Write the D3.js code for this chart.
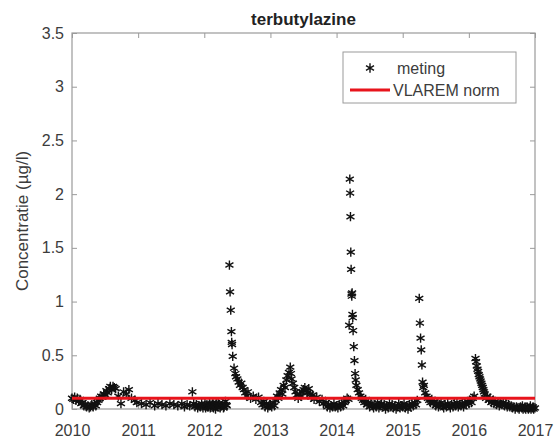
<!DOCTYPE html>
<html>
<head>
<meta charset="utf-8">
<script src="https://cdn.jsdelivr.net/npm/d3@7"></script>
<style>
  body { margin: 0; background: #fff; }
  svg { font-family: "Liberation Sans", Arial, sans-serif; }
</style>
</head>
<body>
<div id="chart"></div>
<script>
// measurements, [decimal year, concentration in µg/l]
const meting2010 = [
  [2010.00, 0.10], [2010.02, 0.09], [2010.04, 0.11], [2010.06, 0.08], [2010.08, 0.10],
  [2010.10, 0.07], [2010.12, 0.09], [2010.14, 0.05], [2010.16, 0.06], [2010.18, 0.03],
  [2010.20, 0.04], [2010.22, 0.02], [2010.24, 0.03], [2010.26, 0.01], [2010.28, 0.02],
  [2010.30, 0.04], [2010.32, 0.02], [2010.34, 0.05], [2010.36, 0.03], [2010.38, 0.06],
  [2010.40, 0.08], [2010.42, 0.10], [2010.44, 0.12], [2010.46, 0.11], [2010.48, 0.14],
  [2010.50, 0.13], [2010.52, 0.17], [2010.54, 0.15], [2010.56, 0.19], [2010.58, 0.21],
  [2010.60, 0.18], [2010.62, 0.21], [2010.64, 0.20], [2010.66, 0.19], [2010.70, 0.12],
  [2010.74, 0.05], [2010.78, 0.16], [2010.82, 0.14], [2010.86, 0.18], [2010.90, 0.10],
  [2010.95, 0.08], [2010.98, 0.06]
];
const meting2011 = [
  [2011.05, 0.05], [2011.12, 0.04], [2011.18, 0.06], [2011.25, 0.03], [2011.30, 0.05],
  [2011.36, 0.04], [2011.42, 0.03], [2011.48, 0.05], [2011.54, 0.04], [2011.60, 0.03],
  [2011.66, 0.05], [2011.70, 0.02], [2011.74, 0.04], [2011.78, 0.03], [2011.82, 0.16],
  [2011.84, 0.05], [2011.86, 0.02], [2011.88, 0.04], [2011.90, 0.01], [2011.92, 0.03],
  [2011.94, 0.02], [2011.96, 0.05], [2011.98, 0.01]
];
const meting2012 = [
  [2012.00, 0.03], [2012.01, 0.05], [2012.02, 0.01], [2012.04, 0.04], [2012.05, 0.02],
  [2012.06, 0.02], [2012.08, 0.05], [2012.09, 0.01], [2012.10, 0.02], [2012.12, 0.04],
  [2012.13, 0.06], [2012.14, 0.01], [2012.16, 0.03], [2012.17, 0.00], [2012.18, 0.06],
  [2012.20, 0.02], [2012.21, 0.05], [2012.22, 0.04], [2012.24, 0.01], [2012.25, 0.03],
  [2012.26, 0.03], [2012.28, 0.05], [2012.29, 0.01], [2012.30, 0.02], [2012.32, 0.07],
  [2012.33, 0.04], [2012.34, 0.03], [2012.38, 1.34], [2012.39, 1.09],
  [2012.40, 0.92], [2012.41, 0.72], [2012.415, 0.62], [2012.42, 0.60], [2012.43, 0.49],
  [2012.45, 0.38], [2012.47, 0.33], [2012.48, 0.30], [2012.50, 0.28], [2012.52, 0.25],
  [2012.54, 0.22], [2012.56, 0.24], [2012.58, 0.20], [2012.60, 0.18], [2012.62, 0.15],
  [2012.64, 0.12], [2012.66, 0.16], [2012.70, 0.10], [2012.74, 0.12], [2012.78, 0.09],
  [2012.82, 0.11], [2012.86, 0.06], [2012.88, 0.04], [2012.90, 0.07], [2012.92, 0.02],
  [2012.94, 0.05], [2012.96, 0.01], [2012.98, 0.03]
];
const meting2013 = [
  [2013.00, 0.04], [2013.02, 0.02], [2013.04, 0.06], [2013.06, 0.03], [2013.08, 0.08],
  [2013.10, 0.12], [2013.12, 0.10], [2013.14, 0.15], [2013.16, 0.18], [2013.18, 0.14],
  [2013.20, 0.22], [2013.22, 0.20], [2013.24, 0.27], [2013.26, 0.31], [2013.28, 0.34],
  [2013.30, 0.39], [2013.31, 0.33], [2013.32, 0.28], [2013.34, 0.24], [2013.36, 0.20],
  [2013.38, 0.16], [2013.40, 0.13], [2013.42, 0.10], [2013.44, 0.14], [2013.46, 0.12],
  [2013.48, 0.16], [2013.50, 0.18], [2013.52, 0.20], [2013.54, 0.17], [2013.56, 0.15],
  [2013.58, 0.19], [2013.60, 0.14], [2013.62, 0.11], [2013.64, 0.13], [2013.66, 0.09],
  [2013.70, 0.11], [2013.74, 0.07], [2013.78, 0.09], [2013.80, 0.05], [2013.84, 0.06],
  [2013.86, 0.02], [2013.88, 0.04], [2013.90, 0.01], [2013.92, 0.03], [2013.94, 0.02],
  [2013.96, 0.05], [2013.98, 0.02]
];
const meting2014 = [
  [2014.00, 0.03], [2014.02, 0.01], [2014.04, 0.04], [2014.06, 0.02], [2014.08, 0.05],
  [2014.10, 0.03], [2014.12, 0.06], [2014.14, 0.08], [2014.16, 0.10], [2014.18, 0.09],
  [2014.19, 0.78], [2014.20, 2.14], [2014.205, 2.01], [2014.21, 1.79], [2014.215, 1.46],
  [2014.22, 1.30], [2014.225, 1.07], [2014.23, 1.05], [2014.235, 1.08], [2014.24, 0.88],
  [2014.245, 0.85], [2014.25, 0.73], [2014.26, 0.58], [2014.27, 0.45], [2014.28, 0.33],
  [2014.29, 0.27], [2014.30, 0.22], [2014.32, 0.18], [2014.34, 0.15], [2014.36, 0.12],
  [2014.38, 0.10], [2014.40, 0.08], [2014.42, 0.06], [2014.44, 0.09], [2014.46, 0.04],
  [2014.48, 0.06], [2014.50, 0.02], [2014.52, 0.05], [2014.54, 0.03], [2014.56, 0.01],
  [2014.58, 0.04], [2014.60, 0.02], [2014.62, 0.06], [2014.64, 0.01], [2014.66, 0.03],
  [2014.68, 0.05], [2014.70, 0.02], [2014.72, 0.04], [2014.74, 0.00], [2014.76, 0.03],
  [2014.78, 0.01], [2014.80, 0.05], [2014.82, 0.02], [2014.84, 0.04], [2014.86, 0.01],
  [2014.88, 0.03], [2014.90, 0.00], [2014.92, 0.02], [2014.94, 0.05], [2014.96, 0.01],
  [2014.98, 0.03]
];
const meting2015 = [
  [2015.00, 0.02], [2015.02, 0.05], [2015.04, 0.01], [2015.06, 0.03], [2015.08, 0.00],
  [2015.10, 0.04], [2015.12, 0.02], [2015.14, 0.05], [2015.16, 0.03], [2015.18, 0.06],
  [2015.20, 0.04], [2015.22, 0.08], [2015.25, 1.03], [2015.26, 0.80], [2015.27, 0.66],
  [2015.28, 0.55], [2015.29, 0.41], [2015.30, 0.25], [2015.31, 0.20], [2015.32, 0.22],
  [2015.34, 0.15], [2015.36, 0.12], [2015.38, 0.10], [2015.40, 0.08], [2015.42, 0.06],
  [2015.44, 0.09], [2015.46, 0.05], [2015.48, 0.07], [2015.50, 0.03], [2015.52, 0.05],
  [2015.54, 0.02], [2015.56, 0.04], [2015.58, 0.06], [2015.60, 0.03], [2015.62, 0.01],
  [2015.64, 0.04], [2015.66, 0.02], [2015.68, 0.05], [2015.70, 0.03], [2015.72, 0.01],
  [2015.74, 0.04], [2015.76, 0.02], [2015.78, 0.05], [2015.80, 0.03], [2015.82, 0.06],
  [2015.84, 0.02], [2015.86, 0.04], [2015.88, 0.03], [2015.90, 0.05], [2015.92, 0.02],
  [2015.94, 0.06], [2015.96, 0.04], [2015.98, 0.07]
];
const meting2016 = [
  [2016.00, 0.05], [2016.02, 0.08], [2016.04, 0.06], [2016.06, 0.10], [2016.08, 0.12],
  [2016.10, 0.47], [2016.11, 0.44], [2016.12, 0.40], [2016.13, 0.37], [2016.14, 0.35],
  [2016.15, 0.32], [2016.16, 0.30], [2016.17, 0.28], [2016.18, 0.26], [2016.19, 0.24],
  [2016.20, 0.22], [2016.21, 0.20], [2016.22, 0.18], [2016.23, 0.16], [2016.24, 0.14],
  [2016.26, 0.10], [2016.28, 0.12], [2016.30, 0.08], [2016.32, 0.10], [2016.34, 0.06],
  [2016.36, 0.08], [2016.38, 0.05], [2016.40, 0.07], [2016.42, 0.04], [2016.44, 0.06],
  [2016.46, 0.03], [2016.48, 0.05], [2016.50, 0.04], [2016.52, 0.06], [2016.54, 0.03],
  [2016.56, 0.05], [2016.58, 0.02], [2016.60, 0.04], [2016.62, 0.02], [2016.64, 0.03],
  [2016.66, 0.01], [2016.68, 0.02], [2016.70, 0.00], [2016.72, 0.02], [2016.74, 0.01],
  [2016.76, 0.00], [2016.78, 0.02], [2016.80, 0.01], [2016.81, 0.03], [2016.82, 0.00],
  [2016.84, 0.01], [2016.85, 0.02], [2016.86, 0.00], [2016.88, 0.02], [2016.89, 0.01],
  [2016.90, 0.00], [2016.92, 0.01], [2016.93, 0.03], [2016.94, 0.00], [2016.96, 0.01],
  [2016.97, 0.02], [2016.98, 0.00], [2017.00, 0.01]
];
const meting = [].concat(meting2010, meting2011, meting2012, meting2013,
  meting2014, meting2015, meting2016);

const vlaremNorm = [[2010, 0.1], [2017, 0.1]];
const xTicks = [2010, 2011, 2012, 2013, 2014, 2015, 2016, 2017];
const yTicks = [0, 0.5, 1, 1.5, 2, 2.5, 3, 3.5];

const width = 556;
const height = 445;
const margin = { top: 33, right: 21, bottom: 36, left: 72 };
const axisColor = '#9a9a9a';
const textColor = '#3c3c3c';

const svg = d3.select('#chart').append('svg')
  .attr('width', width)
  .attr('height', height);

const x = d3.scaleLinear().domain([2010, 2017]).range([margin.left, width - margin.right]);
const y = d3.scaleLinear().domain([0, 3.5]).range([height - margin.bottom, margin.top]);

// box
svg.append('rect')
  .attr('x', x(2010)).attr('y', y(3.5))
  .attr('width', x(2017) - x(2010)).attr('height', y(0) - y(3.5))
  .attr('fill', '#fff').attr('stroke', axisColor).attr('stroke-width', 1.2);

function styleAxis(g) {
  g.select('.domain').remove();
  g.selectAll('.tick line').attr('stroke', axisColor);
  g.selectAll('.tick text').attr('fill', textColor).style('font-size', '16px');
}

svg.append('g')
  .attr('transform', `translate(0,${y(0)})`)
  .call(d3.axisBottom(x).tickValues(xTicks).tickFormat(d3.format('d')).tickSizeInner(-5).tickPadding(16))
  .call(styleAxis);
svg.append('g')
  .attr('transform', `translate(0,${y(3.5)})`)
  .call(d3.axisTop(x).tickValues(xTicks).tickFormat('').tickSizeInner(-5))
  .call(styleAxis);
svg.append('g')
  .attr('transform', `translate(${x(2010)},0)`)
  .call(d3.axisLeft(y).tickValues(yTicks).tickFormat(d3.format('')).tickSizeInner(-5).tickPadding(8))
  .call(styleAxis);
svg.append('g')
  .attr('transform', `translate(${x(2017)},0)`)
  .call(d3.axisRight(y).tickValues(yTicks).tickFormat('').tickSizeInner(-5))
  .call(styleAxis);

const star = d3.symbol().type(d3.symbolAsterisk).size(60);

svg.append('g')
  .selectAll('path')
  .data(meting)
  .enter().append('path')
    .attr('d', star)
    .attr('transform', (d) => `translate(${x(d[0])},${y(d[1])})`)
    .attr('fill', 'none')
    .attr('stroke', '#111')
    .attr('stroke-width', 1.4);

const line = d3.line().x((d) => x(d[0])).y((d) => y(d[1]));
svg.append('path')
  .datum(vlaremNorm)
  .attr('d', line)
  .attr('fill', 'none')
  .attr('stroke', '#e8141c')
  .attr('stroke-width', 3);

// title
svg.append('text')
  .attr('x', (x(2010) + x(2017)) / 2)
  .attr('y', 25)
  .attr('text-anchor', 'middle')
  .attr('font-weight', 'bold')
  .attr('fill', '#222')
  .style('font-size', '17px')
  .text('terbutylazine');

svg.append('text')
  .attr('transform', `translate(28,${(y(0) + y(3.5)) / 2}) rotate(-90)`)
  .attr('text-anchor', 'middle')
  .attr('fill', textColor)
  .style('font-size', '17px')
  .text('Concentratie (µg/l)');

// legend
const legend = svg.append('g').attr('transform', 'translate(343,52)');
legend.append('rect')
  .attr('width', 173).attr('height', 51)
  .attr('fill', '#fff').attr('stroke', axisColor);
legend.append('path')
  .attr('d', star)
  .attr('transform', 'translate(27,16)')
  .attr('fill', 'none').attr('stroke', '#111').attr('stroke-width', 1.4);
legend.append('text')
  .attr('x', 54).attr('y', 22)
  .attr('fill', textColor).style('font-size', '16px')
  .text('meting');
legend.append('line')
  .attr('x1', 7).attr('x2', 47).attr('y1', 38).attr('y2', 38)
  .attr('stroke', '#e8141c').attr('stroke-width', 3);
legend.append('text')
  .attr('x', 50).attr('y', 44)
  .attr('fill', textColor).style('font-size', '16px')
  .text('VLAREM norm');
</script>
</body>
</html>
